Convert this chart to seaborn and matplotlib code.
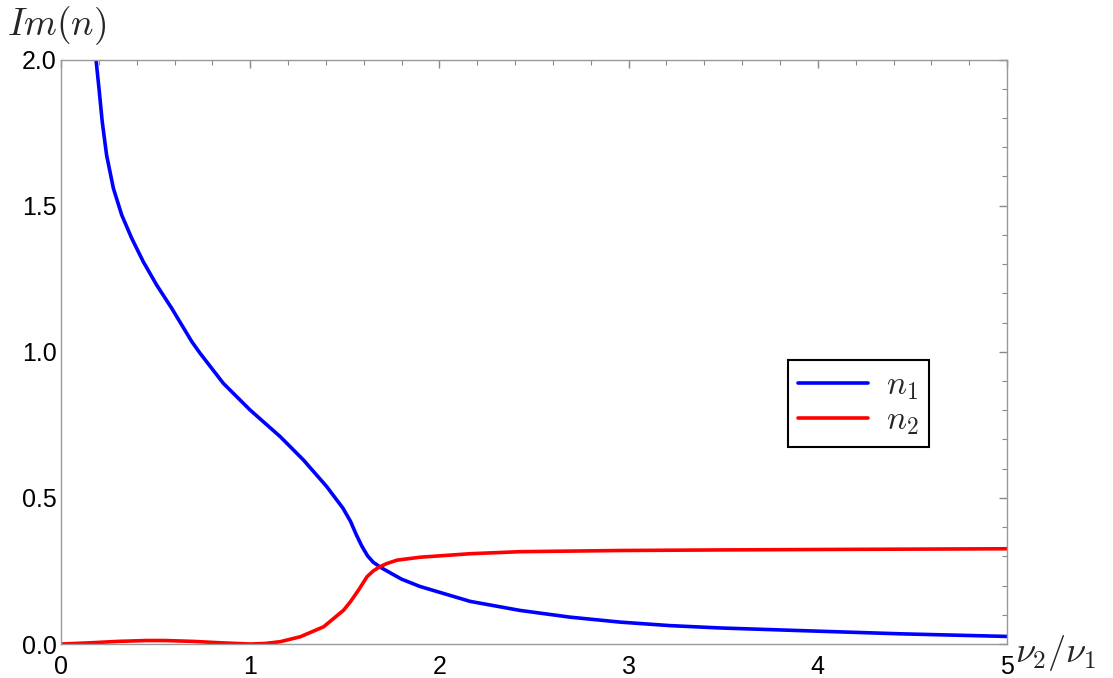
import pandas as pd
import seaborn as sns
import matplotlib.pyplot as plt
from matplotlib.ticker import MultipleLocator

# values
n1_x = [0.16, 0.185, 0.201, 0.218, 0.241, 0.277, 0.321, 0.374, 0.435, 0.506, 0.585,
        0.691, 0.735, 0.858, 0.999, 1.158, 1.281, 1.404, 1.49, 1.53, 1.56,
        1.59, 1.62, 1.65, 1.69, 1.75, 1.80, 1.897, 2.162, 2.426, 2.69, 2.955,
        3.219, 3.483, 3.906, 4.434, 5.0]
n1_y = [2.1, 2.0, 1.90, 1.787, 1.673, 1.559, 1.468, 1.388, 1.308, 1.228, 1.149,
        1.035, 0.995, 0.892, 0.801, 0.710, 0.630, 0.539, 0.465, 0.42, 0.375,
        0.335, 0.302, 0.28, 0.262, 0.24, 0.222, 0.197, 0.146, 0.115, 0.092, 0.075,
        0.063, 0.055, 0.046, 0.035, 0.026]

n2_x = [0.0, 0.15, 0.3, 0.45, 0.55, 0.7, 0.85, 1.0, 1.08, 1.159, 1.265, 1.388,
        1.494, 1.53, 1.573, 1.617, 1.65, 1.679, 1.72, 1.776, 1.897, 2.162, 2.426,
        2.955, 3.483, 4.2, 5.0]
n2_y = [0.0, 0.004, 0.009, 0.012, 0.012, 0.009, 0.004, 0.0, 0.002, 0.008, 0.025, 0.059,
        0.116, 0.145, 0.185, 0.23, 0.25, 0.262, 0.275, 0.287, 0.297, 0.309, 0.316,
        0.320, 0.322, 0.324, 0.326]

x_ticks = [0, 1, 2, 3, 4, 5]
y_ticks = [0.0, 0.5, 1.0, 1.5, 2.0]

df = pd.concat([
    pd.DataFrame({"x": n1_x, "y": n1_y, "curve": r"$n_1$"}),
    pd.DataFrame({"x": n2_x, "y": n2_y, "curve": r"$n_2$"}),
])

sns.set_style("white")
plt.rcParams["font.family"] = ["Liberation Sans", "DejaVu Sans"]
plt.rcParams["mathtext.fontset"] = "cm"

fig = plt.figure(figsize=(11.13, 6.78), dpi=100)
ax = fig.add_axes([0.0548, 0.0501, 0.85, 0.8621])

sns.lineplot(data=df, x="x", y="y", hue="curve", palette=["#0000ff", "#ff0000"],
             linewidth=2.6, sort=False, ax=ax)

ax.set_xlim(0, 5)
ax.set_ylim(0, 2)
ax.set_xticks(x_ticks)
ax.set_xticklabels([str(v) for v in x_ticks])
ax.set_yticks(y_ticks)
ax.set_yticklabels([f"{v:.1f}" for v in y_ticks])
ax.xaxis.set_minor_locator(MultipleLocator(0.2))
ax.yaxis.set_minor_locator(MultipleLocator(0.1))
ax.tick_params(which="both", direction="in", top=True, right=True, color="#888888",
               labelsize=18, labelcolor="black")
ax.tick_params(which="major", length=6, width=1)
ax.tick_params(which="minor", length=3.5, width=0.8)
ax.tick_params(axis="x", pad=8)
ax.tick_params(axis="y", pad=3)
for sp in ax.spines.values():
    sp.set_color("#999999")
    sp.set_linewidth(1)

ax.set_xlabel("")
ax.set_ylabel("")
fig.text(0.006, 0.93, r"$Im(n)$", fontsize=27, ha="left", va="bottom")
fig.text(0.912, 0.037, r"$\nu_2/\nu_1$", fontsize=26, ha="left", va="center")

leg = ax.legend(loc="upper left", bbox_to_anchor=(0.7685, 0.4855), frameon=True,
                fancybox=False, edgecolor="black", framealpha=1, fontsize=24,
                handlelength=2.1, borderpad=0.3, labelspacing=0.1, handletextpad=0.55,
                borderaxespad=0)
leg.get_frame().set_linewidth(1.5)
for line in leg.get_lines():
    line.set_linewidth(2.6)

fig.savefig("out.png", dpi=100)
